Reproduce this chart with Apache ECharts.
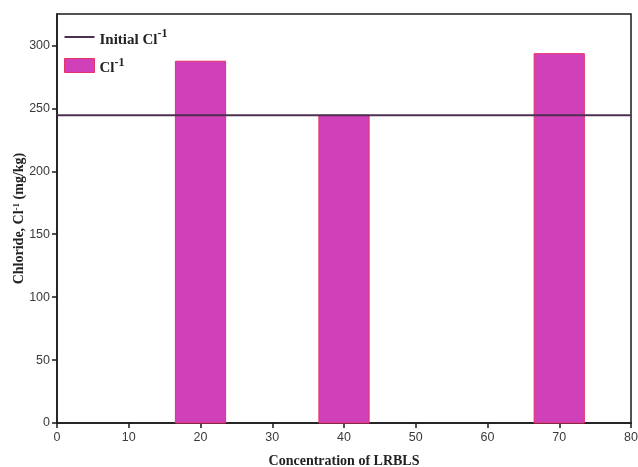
<!DOCTYPE html>
<html>
<head>
<meta charset="utf-8">
<script src="https://cdn.jsdelivr.net/npm/echarts@6/dist/echarts.min.js"></script>
<style>
  html, body { margin: 0; padding: 0; background: #fff; }
  #chart { width: 638px; height: 467px; }
</style>
</head>
<body>
<div id="chart"></div>
<script>
// Chloride content per LRBLS concentration
const concentrations = [20, 40, 70];
const chlorideValues = [287.5, 244.5, 293.5];
const initialChloride = 244.5;
const xTicks = [0, 10, 20, 30, 40, 50, 60, 70, 80];
const yTicks = [0, 50, 100, 150, 200, 250, 300];

const BAR_HALF = 3.5; // half bar width in x-axis units
const serif = '"Liberation Serif", "DejaVu Serif", serif';
const sans = '"Liberation Sans", Arial, sans-serif';

const chart = echarts.init(document.getElementById('chart'));

const barData = concentrations.map((c, i) => [c, chlorideValues[i]]);

chart.setOption({
  animation: false,
  grid: {
    left: 57, right: 7, top: 14, bottom: 44,
    outerBoundsMode: 'none',
    containLabel: false,
    show: true, borderColor: '#1a1a1a', borderWidth: 1.5
  },
  legend: {
    orient: 'vertical',
    left: 64, top: 28, padding: 0,
    itemWidth: 30, itemHeight: 14, itemGap: 9,
    data: [
      { name: 'Initial Cl-1', icon: 'path://M0,6 L30,6 L30,8 L0,8 Z', itemStyle: { color: '#4d3050', borderWidth: 0 } },
      { name: 'Cl-1', icon: 'rect', itemStyle: { color: '#d040b8', borderColor: '#e8306a', borderWidth: 1 } }
    ],
    formatter: function (name) {
      return name === 'Cl-1' ? '{b|Cl}{s|-1}' : '{b|Initial Cl}{s|-1}';
    },
    textStyle: {
      rich: {
        b: { fontFamily: serif, fontWeight: 'bold', fontSize: 15, color: '#222', padding: [6, 0, 0, 0] },
        s: { fontFamily: serif, fontWeight: 'bold', fontSize: 12, color: '#222', padding: [0, 0, 6, 0] }
      }
    }
  },
  xAxis: {
    type: 'value', min: 0, max: 80, interval: 10,
    name: 'Concentration of LRBLS',
    nameLocation: 'middle', nameGap: 31,
    nameMoveOverlap: false,
    nameTextStyle: { fontFamily: serif, fontWeight: 'bold', fontSize: 14, color: '#222' },
    axisLine: { show: true, lineStyle: { color: '#1a1a1a', width: 1.5 } },
    axisTick: { show: true, inside: false, length: 5, lineStyle: { color: '#1a1a1a', width: 1.5 } },
    axisLabel: {
      fontFamily: sans, fontSize: 12.5, color: '#3a3a3a', margin: 8,
      formatter: v => xTicks.includes(v) ? String(v) : ''
    },
    splitLine: { show: false }
  },
  yAxis: {
    type: 'value', min: 0, max: 325, interval: 50,
    name: '{b|Chloride, Cl}{s|-1}{b| (mg/kg)}',
    nameLocation: 'middle', nameGap: 30, nameRotate: 90,
    nameMoveOverlap: false,
    nameTextStyle: {
      rich: {
        b: { fontFamily: serif, fontWeight: 'bold', fontSize: 14, color: '#222' },
        s: { fontFamily: serif, fontWeight: 'bold', fontSize: 9, color: '#222', padding: [0, 0, 6, 0] }
      }
    },
    axisLine: { show: true, lineStyle: { color: '#1a1a1a', width: 1.5 } },
    axisTick: { show: true, inside: false, length: 5, lineStyle: { color: '#1a1a1a', width: 1.5 } },
    axisLabel: {
      fontFamily: sans, fontSize: 12.5, color: '#3a3a3a', margin: 7,
      showMaxLabel: false,
      formatter: v => yTicks.includes(v) ? String(v) : ''
    },
    splitLine: { show: false }
  },
  series: [
    {
      name: 'Cl-1',
      type: 'custom',
      data: barData,
      encode: { x: 0, y: 1 },
      renderItem: function (params, api) {
        const x = api.value(0), y = api.value(1);
        const tl = api.coord([x - BAR_HALF, y]);
        const br = api.coord([x + BAR_HALF, 0]);
        return {
          type: 'rect',
          shape: { x: tl[0], y: tl[1], width: br[0] - tl[0], height: br[1] - tl[1] },
          style: { fill: '#d040b8', stroke: '#e8306a', lineWidth: 1 }
        };
      },
      z: 2
    },
    {
      name: 'Initial Cl-1',
      type: 'line',
      data: [[0, initialChloride], [80, initialChloride]],
      symbol: 'none',
      lineStyle: { color: '#4d3050', width: 2 },
      z: 3
    }
  ]
});
</script>
</body>
</html>
